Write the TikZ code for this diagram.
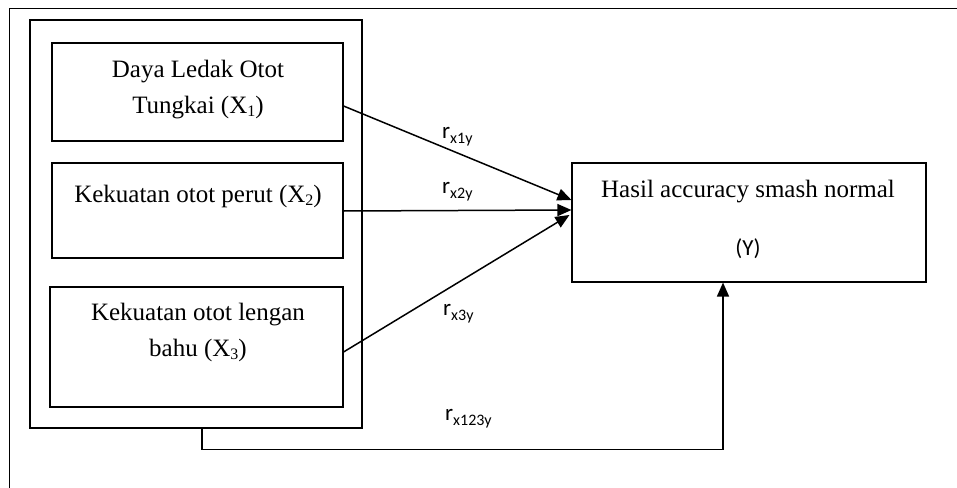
\documentclass[tikz,border=0pt]{standalone}
\usepackage{fontspec}
\setmainfont{Liberation Serif}
\newfontfamily\calib{Carlito}
\usetikzlibrary{arrows.meta}
\newcommand\sbx[1]{\raisebox{-0.14em}{\fontsize{16}{16}\selectfont #1}}
\newcommand\rlab[1]{r\raisebox{-0.22em}{\fontsize{16}{16}\selectfont #1}}
\begin{document}
\begin{tikzpicture}[x=1pt,y=-1pt,
  frame/.style={draw,line width=1.5pt},
  vbox/.style={draw,line width=1.1pt,minimum width=#1,inner sep=0pt},
  txt/.style={anchor=base,inner sep=0pt,font=\fontsize{25}{36}\selectfont},
  lab/.style={anchor=base west,inner sep=0pt,font=\calib\fontsize{23}{26}\selectfont},
  arr/.style={line width=1.5pt,-{Triangle[length=14pt,width=12pt]}}]
\useasboundingbox (0,0) rectangle (957,487);
\begin{scope}
\clip (0,0) rectangle (957,487);
\draw[frame] (9.5,8.5) rectangle (1000,520);
\end{scope}
% inner container
\node[vbox=332pt,minimum height=408pt] (ctr) at (196,224) {};
% variable boxes
\node[vbox=291pt,minimum height=98pt] (b1) at (197.5,92) {};
\node[vbox=291pt,minimum height=95pt] (b2) at (197.5,210.5) {};
\node[vbox=293pt,minimum height=120pt] (b3) at (196.5,347) {};
\node[vbox=354pt,minimum height=119pt] (yb) at (749,222.5) {};
% texts
\node[txt] (t1a) at (198,77) {Daya Ledak Otot};
\node[txt] (t1b) at (198,113) {Tungkai (X\sbx{1})};
\node[txt] (t2) at (198,202) {Kekuatan otot perut (X\sbx{2})};
\node[txt] (t3a) at (198,320) {Kekuatan otot lengan};
\node[txt] (t3b) at (198,356) {bahu (X\sbx{3})};
\node[txt] (ty) at (748,197) {Hasil accuracy smash normal};
\node[anchor=base,inner sep=0pt,font=\calib\fontsize{23}{26}\selectfont] (tyy) at (748,255) {(Y)};
% labels
\node[lab] (l1) at (442,138) {\rlab{x1y}};
\node[lab] (l2) at (442,193) {\rlab{x2y}};
\node[lab] (l3) at (443,315) {\rlab{x3y}};
\node[lab] (l4) at (445,420) {\rlab{x123y}};
% connectors
\draw[arr] ([yshift=-14pt]b1.east) -- ([yshift=22.5pt]yb.west);
\draw[arr] ([yshift=-0.5pt]b2.east) -- ([yshift=12.5pt]yb.west);
\draw[arr] ([yshift=-5pt]b3.east) -- ([xshift=-2pt,yshift=7.5pt]yb.west);
\draw[arr] ([xshift=6pt]ctr.south) -- ++(0,21) -| ([xshift=-26pt]yb.south);
\end{tikzpicture}
\end{document}
